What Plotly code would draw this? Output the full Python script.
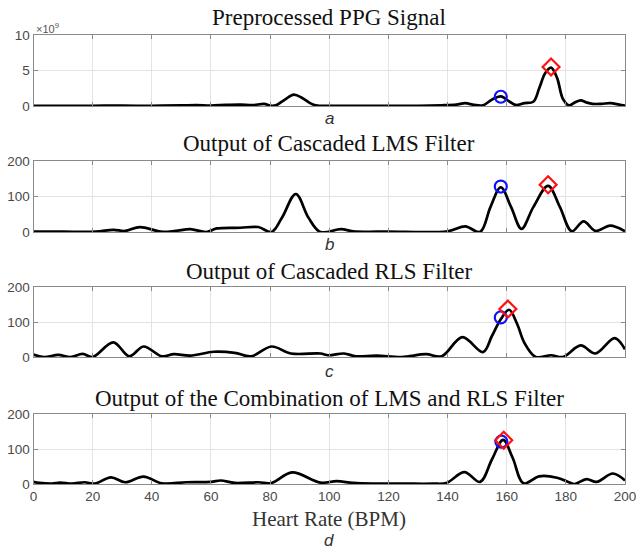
import plotly.graph_objects as go

# ---------------- data ----------------
# Panel a: Preprocessed PPG Signal (units of 1e9)
a_x = [0, 10, 20, 30, 40, 50, 55, 60, 65, 70, 74, 78, 80, 82, 85, 88, 91, 94, 96, 100, 110, 120, 130, 138, 143, 146, 149, 152, 155, 158, 161, 163, 166, 169, 171, 173, 175, 177, 179, 181, 183, 185, 187, 189, 192, 195, 198, 200]
a_y = [0.02, 0.02, 0.03, 0.05, 0.03, 0.08, 0.12, 0.06, 0.15, 0.2, 0.12, 0.3, 0.05, 0.1, 0.9, 1.6, 1.1, 0.3, 0.05, 0.03, 0.02, 0.03, 0.03, 0.1, 0.2, 0.4, 0.15, 0.1, 0.9, 1.35, 0.6, 0.15, 0.4, 0.6, 2.5, 4.6, 5.4, 4.0, 1.0, 0.1, 0.5, 0.8, 0.5, 0.3, 0.3, 0.4, 0.2, 0.05]
a_circle = (158, 1.3)
a_diamond = (175, 5.5)

# Panel b: Output of Cascaded LMS Filter
b_x = [0, 10, 21, 27, 31, 36, 43, 48, 53, 58.5, 62, 70, 76, 80.5, 84, 88.7, 93, 97, 104, 108, 120, 140, 146, 151, 154.5, 158, 161.5, 165, 169, 174, 178, 182, 186, 190, 195, 200]
b_y = [1, 1, 1, 6, 3, 14, 1, 3, 8, 0, 10, 12, 14, 0, 40, 107, 40, 0, 8, 2, 1, 2, 16, 0, 70, 126, 70, 9, 70, 130, 70, 2, 30, 3, 18, 2]
b_circle = (158, 128)
b_diamond = (174, 133)

# Panel c: Output of Cascaded RLS Filter
c_x = [0, 3.6, 8.4, 12.5, 16.6, 20, 27, 32.4, 37.2, 43.4, 47.5, 53, 61, 68, 73.6, 80.5, 87, 97, 99.7, 105, 109, 116, 124.5, 132.7, 138, 145, 152, 155, 158, 160.8, 163.5, 166, 169.8, 175, 179, 185, 190, 196.5, 200]
c_y = [7, 0, 6, 0, 9, 0, 42, 2, 30, 2, 8, 4, 15, 12, 2, 30, 10, 10, 5, 10, 2, 4, 0, 8, 2, 57, 14, 60, 108, 135, 95, 40, 0, 5, 0, 33, 10, 54, 22]
c_circle = (158, 113)
c_diamond = (160.4, 137)

# Panel d: Output of the Combination of LMS and RLS Filter
d_x = [0, 2, 6.3, 9, 13, 17.3, 20.7, 26.2, 31, 37.2, 43.4, 51.6, 60, 63.3, 68, 76, 80.5, 87.4, 97, 102.5, 108, 114.8, 125, 135, 139.6, 145.7, 151, 155, 158.8, 162, 165.7, 171, 177, 181, 183, 187, 190.4, 195.9, 200]
d_y = [6, 3, 1, 4, 1, 5, 1, 19, 5, 21, 2, 5, 6, 10, 3, 5, 3, 33, 4, 8, 3, 1, 1, 1, 3, 34, 6, 70, 126, 75, 2, 22, 18, 5, 0, 14, 6, 30, 10]
d_circle = (158.2, 121)
d_diamond = (159, 125)

titles = ["Preprocessed PPG Signal", "Output of Cascaded LMS Filter",
          "Output of Cascaded RLS Filter", "Output of the Combination of LMS and RLS Filter"]
sublabels = ["a", "b", "c", "d"]
x_ticks = [0, 20, 40, 60, 80, 100, 120, 140, 160, 180, 200]
y_ticks_a = [0, 5, 10]
y_ticks_rest = [0, 100, 200]
x_label = "Heart Rate (BPM)"

# ---------------- layout geometry ----------------
W, H = 636, 553
x0, x1 = 33.5, 625
panels_px = [(35, 106), (161, 232), (287, 357), (414, 484)]  # (top, bottom) in px

def py(p):
    return 1 - p / H

fig = go.Figure()
series = [(a_x, a_y, a_circle, a_diamond), (b_x, b_y, b_circle, b_diamond),
          (c_x, c_y, c_circle, c_diamond), (d_x, d_y, d_circle, d_diamond)]

grid_col = "#e3e3e3"
axis_col = "#8a8a8a"
tick_font = dict(family="Liberation Sans, Arial", size=13.5, color="#4a4a4a")

for i, (xs, ys, circ, diam) in enumerate(series):
    n = "" if i == 0 else str(i + 1)
    xa, ya = "x" + n, "y" + n
    fig.add_trace(go.Scatter(x=xs, y=ys, mode="lines", xaxis=xa, yaxis=ya,
                             line=dict(color="black", width=2.7, shape="spline", smoothing=1.0),
                             cliponaxis=False, showlegend=False, hoverinfo="skip"))
    fig.add_trace(go.Scatter(x=[circ[0]], y=[circ[1]], mode="markers", xaxis=xa, yaxis=ya,
                             marker=dict(symbol="circle-open", size=12, color="#1010ff", line=dict(width=2.2)),
                             cliponaxis=False, showlegend=False))
    fig.add_trace(go.Scatter(x=[diam[0]], y=[diam[1]], mode="markers", xaxis=xa, yaxis=ya,
                             marker=dict(symbol="diamond-open", size=13, color="#ff1010", line=dict(width=2.2)),
                             cliponaxis=False, showlegend=False))
    top, bot = panels_px[i]
    yt = y_ticks_a if i == 0 else y_ticks_rest
    fig.layout["xaxis" + n] = dict(
        domain=[x0 / W, x1 / W], range=[0, 200], anchor=ya,
        tickvals=x_ticks, ticktext=[str(t) for t in x_ticks], showticklabels=(i == 3),
        ticks="inside", ticklen=4, tickcolor=axis_col, mirror="ticks",
        showline=True, linecolor=axis_col, linewidth=1,
        showgrid=True, gridcolor=grid_col, gridwidth=1, zeroline=False,
        tickfont=tick_font, automargin=False, ticklabeloverflow="allow",
    )
    fig.layout["yaxis" + n] = dict(
        domain=[py(bot), py(top)], range=[yt[0], yt[-1]], anchor=xa,
        tickvals=yt, ticktext=[str(t) for t in yt],
        ticks="inside", ticklen=4, tickcolor=axis_col, mirror="ticks",
        showline=True, linecolor=axis_col, linewidth=1,
        showgrid=True, gridcolor=grid_col, gridwidth=1, zeroline=False,
        tickfont=tick_font, automargin=False, ticklabeloverflow="allow",
    )

annotations = []
cx = (x0 + x1) / 2 / W
title_offsets = [18, 17, 16, 16]
for i, (top, bot) in enumerate(panels_px):
    annotations.append(dict(text=titles[i], x=cx, y=py(top - title_offsets[i]), xref="paper", yref="paper",
                            xanchor="center", yanchor="middle", showarrow=False,
                            font=dict(family="Liberation Serif, Times New Roman", size=23, color="#111111")))
sub_y = [118, 245, 371, 540]
for i in range(4):
    annotations.append(dict(text="<i>" + sublabels[i] + "</i>", x=cx, y=py(sub_y[i]), xref="paper", yref="paper",
                            xanchor="center", yanchor="middle", showarrow=False,
                            font=dict(family="Liberation Sans, Arial", size=17, color="#333333")))
annotations.append(dict(text=x_label, x=cx, y=py(519), xref="paper", yref="paper",
                        xanchor="center", yanchor="middle", showarrow=False,
                        font=dict(family="Liberation Serif, Times New Roman", size=21, color="#333333")))
annotations.append(dict(text="×10<sup>9</sup>", x=x0 / W, y=py(28), xref="paper", yref="paper",
                        xanchor="left", yanchor="middle", showarrow=False,
                        font=dict(family="Liberation Sans, Arial", size=11, color="#555555")))

fig.update_layout(width=W, height=H, margin=dict(l=0, r=0, t=0, b=0),
                  paper_bgcolor="white", plot_bgcolor="white", annotations=annotations)

fig.write_html("out.html", config={"displayModeBar": False},
               post_script="document.body.style.margin='0';document.body.style.overflow='hidden';")
